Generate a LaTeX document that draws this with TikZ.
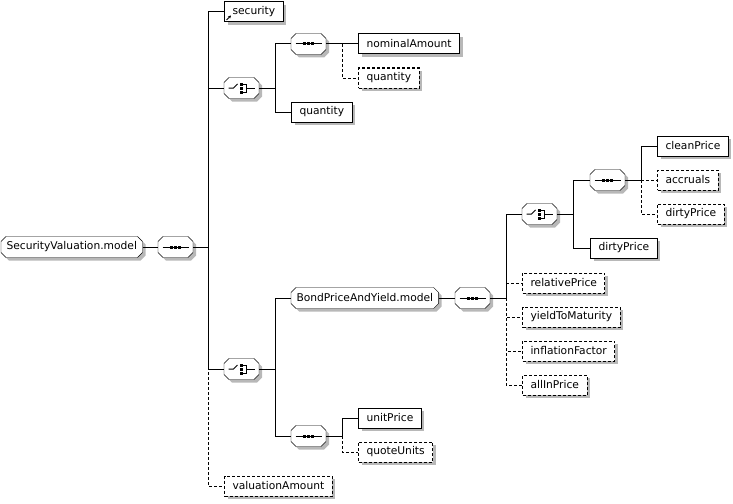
\documentclass[tikz,border=0pt]{standalone}
\usepackage{fontspec}
\setmainfont{DejaVu Sans}
\usetikzlibrary{shadows,arrows.meta,backgrounds}

\newcommand{\octbox}[1]{%
  \begin{scope}[on background layer]
  \fill [black!28, transform canvas={xshift=3pt,yshift=-3pt}] ([xshift=5pt]#1.north west) -- ([xshift=-5pt]#1.north east) -- ([yshift=-5pt]#1.north east) -- ([yshift=5pt]#1.south east) -- ([xshift=-5pt]#1.south east) -- ([xshift=5pt]#1.south west) -- ([yshift=5pt]#1.south west) -- ([yshift=-5pt]#1.north west) -- cycle;
  \filldraw [fill=white] ([xshift=5pt]#1.north west) -- ([xshift=-5pt]#1.north east) -- ([yshift=-5pt]#1.north east) -- ([yshift=5pt]#1.south east) -- ([xshift=-5pt]#1.south east) -- ([xshift=5pt]#1.south west) -- ([yshift=5pt]#1.south west) -- ([yshift=-5pt]#1.north west) -- cycle;
  \end{scope}}
\newcommand{\seqicon}[1]{%
  \draw (#1.center) ++(-13,0) -- ++(26,0);
  \foreach \dx in {-4,0,4} \fill (#1.center) ++(\dx-1.5,-1.5) rectangle ++(3,3);}
\newcommand{\choiceicon}[1]{%
  \draw (#1.center) ++(-13,0) -- ++(5,0) -- ++(4,-4);
  \foreach \dy in {-4,0,4} \fill (#1.center) ++(-1.5,\dy-1.5) rectangle ++(3,3);
  \draw (#1.center) ++(1.5,-4) -- ++(3.5,0) -- ++(0,8) -- ++(-3.5,0);
  \draw (#1.center) ++(5,0) -- ++(8,0);}

\begin{document}
\begin{tikzpicture}[x=1pt,y=-1pt,line width=1pt,
  elem/.style={draw, fill=white, anchor=west, minimum height=20, inner xsep=8,
    font=\fontsize{10.7}{12}\selectfont,
    general shadow={fill=black!28, shadow xshift=3pt, shadow yshift=-3pt}},
  optelem/.style={elem, dash pattern=on 3pt off 2pt},
  model/.style={anchor=west, minimum height=20, inner xsep=5,
    font=\fontsize{10.7}{12}\selectfont},
  compbox/.style={model, minimum width=34, inner xsep=0},
  optline/.style={dash pattern=on 3pt off 2pt}]
      \useasboundingbox (0,0) rectangle (733,503);
      \node [model] (root) at (1,247) {SecurityValuation.model};
      \node [compbox] (seq1) at (158,247) {};
      \node [elem] (security) at (224,12) {security};
      \node [compbox] (ch1) at (224,88) {};
      \node [compbox] (ch2) at (224,369) {};
      \node [optelem] (valamount) at (224,486) {valuationAmount};
      \node [compbox] (seq2) at (291,44) {};
      \node [elem] (qty1) at (291,112) {quantity};
      \node [elem] (nomamount) at (358,44) {nominalAmount};
      \node [optelem] (qty2) at (358,78) {quantity};
      \node [model] (bpy) at (291,298) {BondPriceAndYield.model};
      \node [compbox] (seq4) at (291,436) {};
      \node [elem] (unitprice) at (358,418) {unitPrice};
      \node [optelem] (quoteunits) at (358,452) {quoteUnits};
      \node [compbox] (seq3) at (455,298) {};
      \node [compbox] (ch3) at (522,214) {};
      \node [optelem] (relprice) at (522,283) {relativePrice};
      \node [optelem] (ytm) at (522,317) {yieldToMaturity};
      \node [optelem] (inflation) at (522,351) {inflationFactor};
      \node [optelem] (allin) at (522,385) {allInPrice};
      \node [compbox] (seq5) at (590,180) {};
      \node [elem] (dirty1) at (590,248) {dirtyPrice};
      \node [elem] (clean) at (657,146) {cleanPrice};
      \node [optelem] (accruals) at (657,180) {accruals};
      \node [optelem] (dirty2) at (657,214) {dirtyPrice};
      \octbox{root} \octbox{bpy}
      \octbox{seq1} \octbox{seq2} \octbox{seq3} \octbox{seq4} \octbox{seq5}
      \octbox{ch1} \octbox{ch2} \octbox{ch3}
      \seqicon{seq1} \seqicon{seq2} \seqicon{seq3} \seqicon{seq4} \seqicon{seq5}
      \choiceicon{ch1} \choiceicon{ch2} \choiceicon{ch3}
      \draw [line width=0.8pt, -{Stealth[length=3pt,width=3pt]}] (security.south west) ++(2.5,-2.5) -- ++(4.5,-4.5);
      \coordinate (b1) at (208,247);
      \coordinate (b2) at (275,88);
      \coordinate (b3) at (342,44);
      \coordinate (b4) at (275,369);
      \coordinate (b5) at (342,436);
      \coordinate (b6) at (506,298);
      \coordinate (b7) at (573,214);
      \coordinate (b8) at (641,180);
      \draw (root) -- (seq1);
      \draw (seq1) -- (b1);
      \draw (b1) |- (security.west);
      \draw (b1) |- (ch1.west);
      \draw (b1) |- (ch2.west);
      \draw [optline] (b1) |- (valamount.west);
      \draw (ch1) -- (b2);
      \draw (b2) |- (seq2.west);
      \draw (b2) |- (qty1.west);
      \draw (seq2) -- (b3);
      \draw (b3) |- (nomamount.west);
      \draw [optline] (b3) |- (qty2.west);
      \draw (ch2) -- (b4);
      \draw (b4) |- (bpy.west);
      \draw (b4) |- (seq4.west);
      \draw (seq4) -- (b5);
      \draw (b5) |- (unitprice.west);
      \draw [optline] (b5) |- (quoteunits.west);
      \draw (bpy) -- (seq3);
      \draw (seq3) -- (b6);
      \draw (b6) |- (ch3.west);
      \draw [optline] (b6) |- (relprice.west);
      \draw [optline] (b6) |- (ytm.west);
      \draw [optline] (b6) |- (inflation.west);
      \draw [optline] (b6) |- (allin.west);
      \draw (ch3) -- (b7);
      \draw (b7) |- (seq5.west);
      \draw (b7) |- (dirty1.west);
      \draw (seq5) -- (b8);
      \draw (b8) |- (clean.west);
      \draw [optline] (b8) |- (accruals.west);
      \draw [optline] (b8) |- (dirty2.west);
\end{tikzpicture}
\end{document}
